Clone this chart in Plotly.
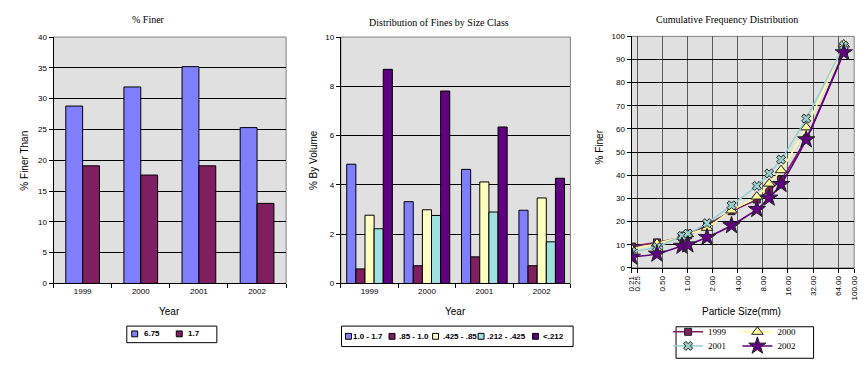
import plotly.graph_objects as go

# ---------------- data ----------------
years = ["1999", "2000", "2001", "2002"]

# Chart 1: % Finer Than
finer_names = ["6.75", "1.7"]
finer_675 = [28.8, 31.9, 35.2, 25.3]
finer_17 = [19.1, 17.6, 19.1, 13.0]

# Chart 2: Distribution of fines by size class (% by volume)
size_classes = ["1.0 - 1.7", ".85 - 1.0", ".425 - .85", ".212 - .425", "<.212"]
vol_10_17 = [4.84, 3.32, 4.63, 2.97]
vol_085_10 = [0.59, 0.72, 1.08, 0.72]
vol_0425_085 = [2.77, 2.99, 4.12, 3.47]
vol_0212_0425 = [2.22, 2.76, 2.90, 1.69]
vol_lt0212 = [8.69, 7.81, 6.35, 4.27]

# Chart 3: cumulative frequency distribution
particle_size = [0.212, 0.425, 0.85, 1.0, 1.7, 3.35, 6.75, 9.5, 13.2, 26.5, 75.0]
cum_1999 = [9.2, 11.0, 13.2, 14.0, 18.5, 24.5, 29.5, 33.5, 38.2, 56.0, 93.5]
cum_2000 = [8.0, 10.5, 13.5, 14.5, 17.3, 24.8, 30.8, 36.4, 42.2, 60.7, 96.5]
cum_2001 = [7.0, 9.0, 13.8, 14.8, 19.3, 27.0, 35.4, 40.8, 46.8, 64.5, 96.0]
cum_2002 = [4.7, 6.0, 9.4, 10.0, 13.2, 18.3, 25.3, 30.2, 36.1, 55.4, 93.0]

size_tick_vals = [0.21, 0.25, 0.5, 1, 2, 4, 8, 16, 32, 64, 100]
size_tick_text = ["0.21", "0.25", "0.50", "1.00", "2.00", "4.00", "8.00",
                  "16.00", "32.00", "64.00", "100.00"]

# ---------------- styling ----------------
W, H = 867, 366
SANS = "Liberation Sans, Arial, sans-serif"
SERIF = "Liberation Serif, Times New Roman, serif"
BLUE = "#8080FF"
PLUM = "#7F1F5F"
LYEL = "#FFFFC0"
LCYAN = "#A0E0E0"
PURP = "#600080"


def px(x):
    return x / W


def py(y):
    return 1 - y / H


fig = go.Figure()

# Chart 1 bars
bw1 = 0.29
for vals, name, col, off in [(finer_675, finer_names[0], BLUE, -bw1),
                             (finer_17, finer_names[1], PLUM, 0.0)]:
    fig.add_trace(go.Bar(x=years, y=vals, name=name, marker_color=col,
                         marker_line=dict(color="black", width=1),
                         width=bw1, offset=off, xaxis="x", yaxis="y",
                         showlegend=False))

# Chart 2 bars
bw2 = 0.159
vol_series = [vol_10_17, vol_085_10, vol_0425_085, vol_0212_0425, vol_lt0212]
vol_colors = [BLUE, PLUM, LYEL, LCYAN, PURP]
for i, (vals, name, col) in enumerate(zip(vol_series, size_classes, vol_colors)):
    fig.add_trace(go.Bar(x=years, y=vals, name=name, marker_color=col,
                         marker_line=dict(color="black", width=1),
                         width=bw2, offset=-2.5 * bw2 + i * bw2,
                         xaxis="x2", yaxis="y2", showlegend=False))

# Chart 3 lines
line_specs = [
    (cum_1999, "1999", PLUM, "square", 7, "legend"),
    (cum_2000, "2000", "#FFFF99", "triangle-up", 10, "legend2"),
    (cum_2001, "2001", "#99D0D0", "x", 8, "legend3"),
    (cum_2002, "2002", PURP, "star", 13, "legend4"),
]
for vals, name, col, sym, size, leg in line_specs:
    fig.add_trace(go.Scatter(
        x=particle_size, y=vals, name=name, mode="lines+markers",
        line=dict(color=col, width=1.6, shape="spline", smoothing=0.6),
        marker=dict(symbol=sym, size=size, color=col,
                    line=dict(color="#202020", width=1)),
        xaxis="x3", yaxis="y3", legend=leg))

axis_common = dict(showline=True, linecolor="black", linewidth=1,
                   ticks="outside", ticklen=4, tickcolor="black",
                   tickfont=dict(family=SANS, size=8, color="black"),
                   zeroline=False)

ydom12 = [py(278.3), py(25.7)]
ydom3 = [py(262.3), py(25.0)]

fig.update_layout(
    width=W, height=H,
    margin=dict(l=0, r=0, t=0, b=0),
    paper_bgcolor="white",
    plot_bgcolor="#E0E0E0",
    barmode="overlay",
    xaxis=dict(domain=[px(42), px(277)], anchor="y", type="category",
               range=[-0.5, 3.5], tickson="boundaries", showgrid=False,
               **axis_common),
    yaxis=dict(domain=ydom12, anchor="x", range=[0, 40], dtick=5,
               showgrid=True, gridcolor="black", gridwidth=1, **axis_common),
    xaxis2=dict(domain=[px(332.3), px(564.3)], anchor="y2", type="category",
                range=[-0.5, 3.5], tickson="boundaries", showgrid=False,
                **axis_common),
    yaxis2=dict(domain=ydom12, anchor="x2", range=[0, 10], dtick=2,
                showgrid=True, gridcolor="black", gridwidth=1, **axis_common),
    xaxis3=dict(domain=[px(626), px(851)], anchor="y3", type="log",
                range=[-0.67778, 2], tickvals=size_tick_vals,
                ticktext=size_tick_text, tickangle=-90, showgrid=True,
                gridcolor="#5A5A5A", gridwidth=1, **axis_common),
    yaxis3=dict(domain=ydom3, anchor="x3", range=[0, 100], dtick=10,
                showgrid=True, gridcolor="black", gridwidth=1, **axis_common),
)

# plot-area borders (gray)
shapes = []
for xr, yr in [("x", "y"), ("x2", "y2"), ("x3", "y3")]:
    shapes.append(dict(type="rect", xref=f"{xr} domain", yref=f"{yr} domain",
                       x0=0, x1=1, y0=0, y1=1, layer="below",
                       line=dict(color="#808080", width=1)))

annotations = []


def text(x, y, s, size=10, family=SANS, angle=0, xanchor="center", bold=False):
    annotations.append(dict(
        x=px(x), y=py(y), xref="paper", yref="paper",
        text=(f"<b>{s}</b>" if bold else s),
        showarrow=False, textangle=angle, xanchor=xanchor, yanchor="middle",
        font=dict(family=family, size=size, color="black")))


# titles
text(138, 7.5, "% Finer", size=10, family=SERIF)
text(431, 11, "Distribution of Fines by Size Class", size=10, family=SERIF)
text(722, 7.5, "Cumulative Frequency Distribution", size=10, family=SERIF)
# axis titles
text(12.5, 152, "% Finer Than", angle=-90)
text(159.3, 307.5, "Year")
text(304, 152, "% By Volume", angle=-90)
text(447.7, 307.5, "Year")
text(594, 138, "% Finer", angle=-90)
text(737, 306.7, "Particle Size(mm)")


def box(x0, x1, y0, y1, fill="white", layer="above", color="black", lw=1):
    shapes.append(dict(type="rect", xref="paper", yref="paper",
                       x0=px(x0), x1=px(x1), y0=py(y1), y1=py(y0),
                       line=dict(color=color, width=lw), fillcolor=fill,
                       layer=layer))


# chart 3 legend frame
box(671, 810, 322.7, 355, fill="rgba(0,0,0,0)", color="black", lw=1)

# manual legends for bar charts
box(116, 207, 322, 339)
for sx, tx, name, col in [(121, 131.5, finer_names[0], BLUE),
                          (166, 175.5, finer_names[1], PLUM)]:
    box(sx, sx + 6, 327, 333, fill=col)
    text(tx, 330, name, size=8, xanchor="left", bold=True)

box(333, 567, 322, 343)
leg2_sw = [337, 381, 425, 471, 526]
leg2_tx = [343, 389, 433.5, 478, 535]
for sx, tx, name, col in zip(leg2_sw, leg2_tx, size_classes, vol_colors):
    box(sx, sx + 6, 329.5, 335.5, fill=col)
    text(tx, 332.5, name, size=8, xanchor="left", bold=True)

leg_common = dict(xanchor="left", yanchor="top",
                  bgcolor="rgba(255,255,255,0)", bordercolor="rgba(255,255,255,0)",
                  borderwidth=0, font=dict(family=SERIF, size=9, color="black"))
fig.update_layout(
    legend=dict(x=px(663), y=py(313), **leg_common),
    legend2=dict(x=px(733), y=py(313), **leg_common),
    legend3=dict(x=px(663), y=py(327.5), **leg_common),
    legend4=dict(x=px(733), y=py(327.5), **leg_common),
    shapes=shapes, annotations=annotations,
)

fig.write_html("out.html")
